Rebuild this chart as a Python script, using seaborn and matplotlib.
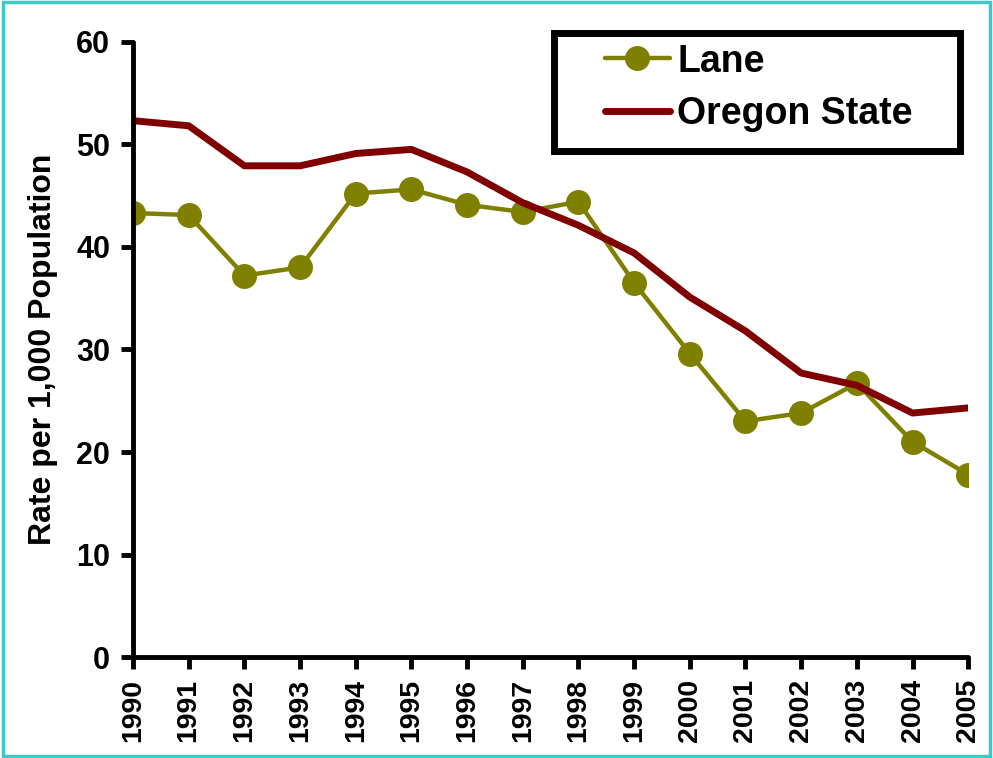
import pandas as pd
import matplotlib.pyplot as plt
import seaborn as sns
from matplotlib.patches import Rectangle

# Valores (taxa por 1.000 habitantes)
anos = [1990, 1991, 1992, 1993, 1994, 1995, 1996, 1997,
        1998, 1999, 2000, 2001, 2002, 2003, 2004, 2005]
lane = [43.3, 43.1, 37.2, 38.0, 45.2, 45.6, 44.1, 43.4,
        44.4, 36.5, 29.6, 23.0, 23.8, 26.7, 21.0, 17.8]
oregon = [52.3, 51.8, 47.9, 47.9, 49.1, 49.5, 47.3, 44.3,
          42.1, 39.4, 35.1, 31.8, 27.7, 26.5, 23.8, 24.3]

sns.set_style("ticks")
plt.rcParams['font.family'] = ['Liberation Sans', 'DejaVu Sans']
plt.rcParams['font.weight'] = 'bold'
plt.rcParams['text.color'] = 'black'
plt.rcParams['axes.labelcolor'] = 'black'
plt.rcParams['xtick.color'] = 'black'
plt.rcParams['ytick.color'] = 'black'

df = pd.DataFrame({'Ano': anos, 'Lane': lane, 'Oregon State': oregon})

fig = plt.figure(figsize=(9.93, 7.58), dpi=100)
ax = fig.add_axes([0.134, 0.133, 0.841, 0.812])

sns.lineplot(data=df, x='Ano', y='Lane', ax=ax, color='#808000', lw=3.2,
             marker='o', markersize=18, markeredgewidth=0, label='Lane',
             solid_capstyle='round')
sns.lineplot(data=df, x='Ano', y='Oregon State', ax=ax, color='#800000', lw=5,
             label='Oregon State', solid_capstyle='round')

ax.set_xlim(1990, 2005)
ax.set_ylim(0, 60)
ax.set_xticks(anos)
ax.set_xticklabels([str(a) for a in anos], rotation=90, fontsize=20.5, fontweight='bold')
ax.set_yticks(range(0, 61, 10))
ax.set_yticklabels([str(v) for v in range(0, 61, 10)], fontsize=22, fontweight='bold')
ax.set_xlabel('')
ax.set_ylabel('Rate per 1,000 Population', fontsize=23, fontweight='bold', labelpad=13)

for lado in ['top', 'right']:
    ax.spines[lado].set_visible(False)
for lado in ['left', 'bottom']:
    ax.spines[lado].set_linewidth(3.5)
    ax.spines[lado].set_color('black')
    ax.spines[lado].set_capstyle('round')
    ax.spines[lado].set_clip_on(False)
ax.tick_params(axis='y', length=8.5, width=3.5, pad=8)
ax.tick_params(axis='x', length=8.5, width=3.5, pad=7)

# Legenda sem moldura própria; a moldura preta é desenhada à parte
leg = ax.legend(loc='center left', bbox_to_anchor=(0.565, 0.925), fontsize=27,
                frameon=False, handlelength=1.73, handletextpad=0.2,
                borderpad=0, labelspacing=0.44, borderaxespad=0)
for txt in leg.get_texts():
    txt.set_fontweight('bold')
ax.add_patch(Rectangle((0.5036, 0.822), 0.4862, 0.1918, transform=ax.transAxes,
                       fill=False, edgecolor='black', linewidth=5, clip_on=False,
                       joinstyle='miter', zorder=5))

# Moldura turquesa em volta da figura
fig.patches.append(Rectangle((0.003, 0.003), 0.994, 0.994, transform=fig.transFigure,
                             fill=False, edgecolor='#40C8C8', linewidth=2.5))

plt.savefig('out.png', dpi=100)
plt.close()
